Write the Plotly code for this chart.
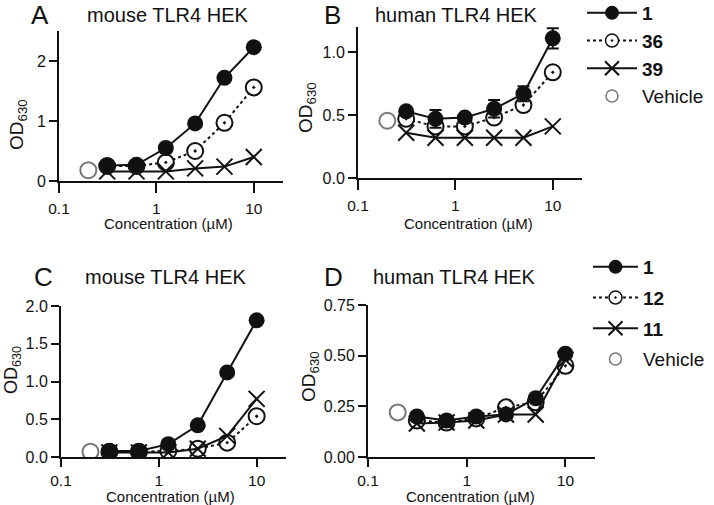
import plotly.graph_objects as go

W, H = 714, 505

conc = [0.3125, 0.625, 1.25, 2.5, 5, 10]
vehicle_conc = [0.2]

# Panel A (mouse TLR4 HEK)
a_1 = [0.26, 0.27, 0.55, 0.96, 1.72, 2.23]
a_36 = [0.25, 0.25, 0.31, 0.50, 0.97, 1.56]
a_39 = [0.16, 0.16, 0.16, 0.21, 0.24, 0.40]
a_vehicle = [0.18]

# Panel B (human TLR4 HEK)
b_1 = [0.53, 0.47, 0.48, 0.55, 0.67, 1.11]
b_1_err = [0.03, 0.07, 0.02, 0.07, 0.06, 0.08]
b_36 = [0.47, 0.41, 0.41, 0.48, 0.58, 0.84]
b_39 = [0.36, 0.32, 0.32, 0.32, 0.32, 0.41]
b_vehicle = [0.455]

# Panel C (mouse TLR4 HEK)
c_1 = [0.08, 0.08, 0.17, 0.42, 1.12, 1.81]
c_12 = [0.07, 0.07, 0.08, 0.11, 0.19, 0.54]
c_11 = [0.06, 0.06, 0.06, 0.11, 0.28, 0.77]
c_vehicle = [0.07]

# Panel D (human TLR4 HEK)
d_1 = [0.20, 0.18, 0.20, 0.21, 0.29, 0.51]
d_12 = [0.18, 0.17, 0.19, 0.245, 0.27, 0.45]
d_11 = [0.165, 0.17, 0.18, 0.21, 0.21, 0.48]
d_vehicle = [0.22]

x_tickvals = [0.1, 1, 10]
x_ticktext = ["0.1", "1", "10"]

fig = go.Figure()

def px_x(a, b):
    return [a / W, b / W]

def px_y(top, bottom):
    return [1 - bottom / H, 1 - top / H]

BLACK = "#111111"
GRAY = "#777777"
MS = 16

def add_panel(idx, s1, s1err, s2, s3, veh, names, legend):
    xa = "x" if idx == 1 else f"x{idx}"
    ya = "y" if idx == 1 else f"y{idx}"
    err = None
    if s1err is not None:
        err = dict(type="data", array=s1err, color=BLACK, thickness=2, width=6)
    fig.add_trace(go.Scatter(
        x=conc, y=s2, xaxis=xa, yaxis=ya, mode="lines+markers",
        line=dict(color=BLACK, width=2, dash="dot"),
        marker=dict(symbol="circle-dot", size=MS, color="white",
                    line=dict(color=BLACK, width=2)),
        showlegend=False))
    fig.add_trace(go.Scatter(
        x=conc, y=s3, xaxis=xa, yaxis=ya, mode="lines+markers",
        line=dict(color=BLACK, width=2),
        marker=dict(symbol="x-thin-open", size=MS, color=BLACK,
                    line=dict(color=BLACK, width=2)),
        showlegend=False))
    fig.add_trace(go.Scatter(
        x=conc, y=s1, xaxis=xa, yaxis=ya, mode="lines+markers",
        error_y=err,
        line=dict(color=BLACK, width=2),
        marker=dict(symbol="circle", size=MS, color=BLACK),
        showlegend=False))
    fig.add_trace(go.Scatter(
        x=vehicle_conc, y=veh, xaxis=xa, yaxis=ya, mode="markers",
        marker=dict(symbol="circle-open", size=MS, color=GRAY,
                    line=dict(color=GRAY, width=2)),
        showlegend=False))
    if legend is not None:
        fig.add_trace(go.Scatter(x=[None], y=[None], xaxis=xa, yaxis=ya, mode="lines+markers",
            name=f"<b>{names[0]}</b>", legend=legend, legendgroup=legend + "a",
            line=dict(color=BLACK, width=2),
            marker=dict(symbol="circle", size=14, color=BLACK)))
        fig.add_trace(go.Scatter(x=[None], y=[None], xaxis=xa, yaxis=ya, mode="lines+markers",
            name=f"<b>{names[1]}</b>", legend=legend, legendgroup=legend + "b",
            line=dict(color=BLACK, width=2, dash="dot"),
            marker=dict(symbol="circle-dot", size=13, color="white", line=dict(color=BLACK, width=1.5))))
        fig.add_trace(go.Scatter(x=[None], y=[None], xaxis=xa, yaxis=ya, mode="lines+markers",
            name=f"<b>{names[2]}</b>", legend=legend, legendgroup=legend + "c",
            line=dict(color=BLACK, width=2),
            marker=dict(symbol="x-thin-open", size=14, color=BLACK, line=dict(color=BLACK, width=2))))
        fig.add_trace(go.Scatter(x=[None], y=[None], xaxis=xa, yaxis=ya, mode="markers",
            name="Vehicle", legend=legend, legendgroup=legend + "d",
            marker=dict(symbol="circle-open", size=12, color=GRAY, line=dict(color=GRAY, width=1.5))))

add_panel(1, a_1, None, a_36, a_39, a_vehicle, ["1", "36", "39"], "legend")
add_panel(2, b_1, b_1_err, b_36, b_39, b_vehicle, ["1", "36", "39"], None)
add_panel(3, c_1, None, c_12, c_11, c_vehicle, ["1", "12", "11"], "legend2")
add_panel(4, d_1, None, d_12, d_11, d_vehicle, ["1", "12", "11"], None)

FONT = "Liberation Sans, Arial, sans-serif"

def xaxis(domain, anchor, ticklen=10, standoff=2):
    return dict(domain=domain, anchor=anchor, type="log", range=[-1, 1.3],
                tickvals=x_tickvals, ticktext=x_ticktext, showgrid=False, zeroline=False,
                showline=True, linecolor=BLACK, linewidth=2, ticks="outside",
                ticklen=ticklen, tickwidth=2, tickcolor=BLACK, automargin=False,
                ticklabelstandoff=standoff,
                tickfont=dict(family=FONT, size=15.5, color=BLACK))

def yaxis(domain, anchor, rng, dtick, fmt):
    return dict(domain=domain, anchor=anchor, range=rng, dtick=dtick, tick0=0,
                tickformat=fmt, showgrid=False, zeroline=False,
                showline=True, linecolor=BLACK, linewidth=2, ticks="outside",
                ticklen=8, tickwidth=2, tickcolor=BLACK, automargin=False,
                tickfont=dict(family=FONT, size=16, color=BLACK))

fig.update_layout(
    width=W, height=H, margin=dict(l=0, r=0, t=0, b=0, autoexpand=False),
    paper_bgcolor="white", plot_bgcolor="white",
    font=dict(family=FONT, color=BLACK),
    xaxis=xaxis(px_x(59, 283), "y"),
    yaxis=yaxis(px_y(31, 181), "x", [0, 2.5], 1, "d"),
    xaxis2=xaxis(px_x(358, 582), "y2"),
    yaxis2=yaxis(px_y(27, 178), "x2", [0, 1.2], 0.5, ".1f"),
    xaxis3=xaxis(px_x(61, 286), "y3", 8, 0),
    yaxis3=yaxis(px_y(306, 457), "x3", [0, 2.0], 0.5, ".1f"),
    xaxis4=xaxis(px_x(368, 595), "y4", 8, 0),
    yaxis4=yaxis(px_y(305, 457), "x4", [0, 0.75], 0.25, ".2f"),
    legend=dict(x=582 / W, y=1 + 6 / H, xanchor="left", yanchor="top",
                font=dict(family=FONT, size=19, color=BLACK), bgcolor="rgba(0,0,0,0)",
                itemwidth=50, tracegroupgap=0),
    legend2=dict(x=588 / W, y=1 - 248 / H, xanchor="left", yanchor="top",
                 font=dict(family=FONT, size=19, color=BLACK), bgcolor="rgba(0,0,0,0)",
                 itemwidth=45, tracegroupgap=3),
)

def ann(text, x, y, size, angle=0):
    fig.add_annotation(text=text, x=x / W, y=1 - y / H, xref="paper", yref="paper",
                       showarrow=False, textangle=angle, xanchor="center", yanchor="middle",
                       font=dict(family=FONT, size=size, color=BLACK))

# panel letters and titles
ann("A", 40, 15, 26)
ann("mouse TLR4 HEK", 167, 15, 20)
ann("B", 332, 15, 26)
ann("human TLR4 HEK", 457, 15, 20)
ann("C", 43, 277, 26)
ann("mouse TLR4 HEK", 165, 277, 20)
ann("D", 333, 277, 26)
ann("human TLR4 HEK", 455, 277, 20)

# axis titles
ann("Concentration (µM)", 168, 224, 15)
ann("Concentration (µM)", 468, 224, 15)
ann("Concentration (µM)", 170, 496, 15)
ann("Concentration (µM)", 470, 496, 15)
ann("OD<sub>630</sub>", 18, 125, 19, -90)
ann("OD<sub>630</sub>", 307, 108, 19, -90)
ann("OD<sub>630</sub>", 12, 370, 18, -90)
ann("OD<sub>630</sub>", 310, 377, 19, -90)

fig.write_html("out.html", config={"displayModeBar": False},
               post_script="document.body.style.margin='0';")
